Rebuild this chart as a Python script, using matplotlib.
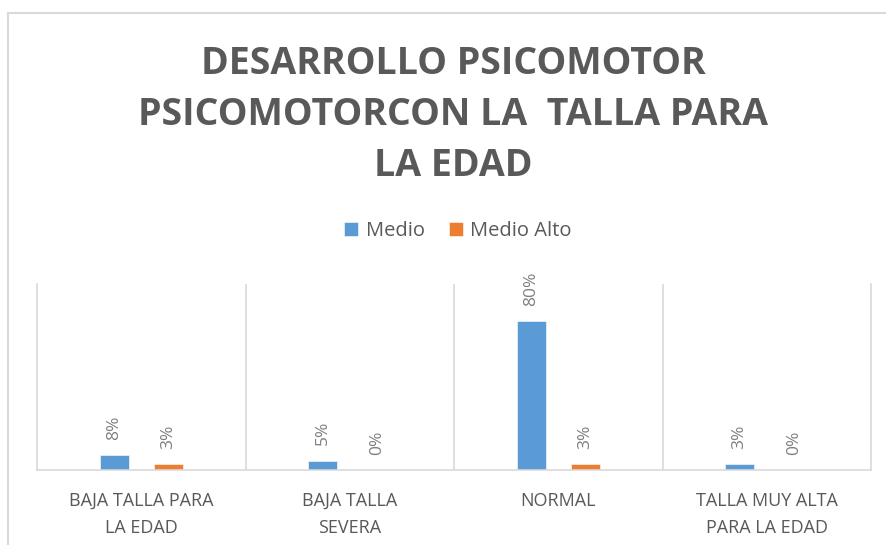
import matplotlib
matplotlib.use("Agg")
import matplotlib.pyplot as plt
from matplotlib.lines import Line2D
import numpy as np

categories = ["BAJA TALLA PARA\nLA EDAD", "BAJA TALLA\nSEVERA", "NORMAL", "TALLA MUY ALTA\nPARA LA EDAD"]
medio = [0.08, 0.05, 0.80, 0.03]
medio_alto = [0.03, 0.00, 0.03, 0.00]
series_names = ["Medio", "Medio Alto"]
title = "DESARROLLO PSICOMOTOR\nPSICOMOTORCON LA  TALLA PARA\nLA EDAD"

plt.rcParams['font.family'] = ['Open Sans', 'DejaVu Sans']

fig = plt.figure(figsize=(8.86, 5.45), dpi=100)
ax = fig.add_axes([37/886, 1-470/545, (871-37)/886, (470-284)/545])

x = np.arange(len(categories))
w = 0.14
off = 0.13
b1 = ax.bar(x - off, medio, w, color="#5B9BD5", label=series_names[0], edgecolor="white", linewidth=0.4)
b2 = ax.bar(x + off, medio_alto, w, color="#ED7D31", label=series_names[1], edgecolor="white", linewidth=0.4)

for bars, vals in ((b1, medio), (b2, medio_alto)):
    for r, v in zip(bars, vals):
        ax.annotate(f"{v:.0%}", (r.get_x() + r.get_width()/2, v), xytext=(0, 11),
                    textcoords="offset points", rotation=90, ha="center", va="bottom",
                    fontsize=12.5, color="#7F7F7F")

ax.set_xlim(-0.5, 3.5)
ax.set_ylim(0, 1.0)
ax.set_yticks([])
ax.set_xticks(x)
ax.set_xticklabels(categories, fontsize=13, color="#595959", linespacing=1.6)
ax.tick_params(axis="x", length=0, pad=16)
for s in ("top",):
    ax.spines[s].set_visible(False)
for s in ("left", "right", "bottom"):
    ax.spines[s].set_color("#D9D9D9")
    ax.spines[s].set_linewidth(1.2)
for b in (0.5, 1.5, 2.5):
    ax.axvline(b, color="#D9D9D9", lw=1.2)

fig.text(453/886, 1-115/545, title, ha="center", va="center", fontsize=27,
         fontweight="bold", color="#595959", linespacing=1.45)

fig.legend(loc="center", bbox_to_anchor=(458/886, 1-231/545), ncol=2, frameon=False,
           fontsize=14.5, labelcolor="#595959", handlelength=0.7, handleheight=0.7,
           handletextpad=0.36, columnspacing=1.2)

fig.add_artist(Line2D([8/886, 8/886], [1-13/545, 0], transform=fig.transFigure, color="#D9D9D9", lw=1.5))
fig.add_artist(Line2D([8/886, 1], [1-13/545, 1-13/545], transform=fig.transFigure, color="#D9D9D9", lw=1.5))

fig.savefig("out.png", dpi=100)
